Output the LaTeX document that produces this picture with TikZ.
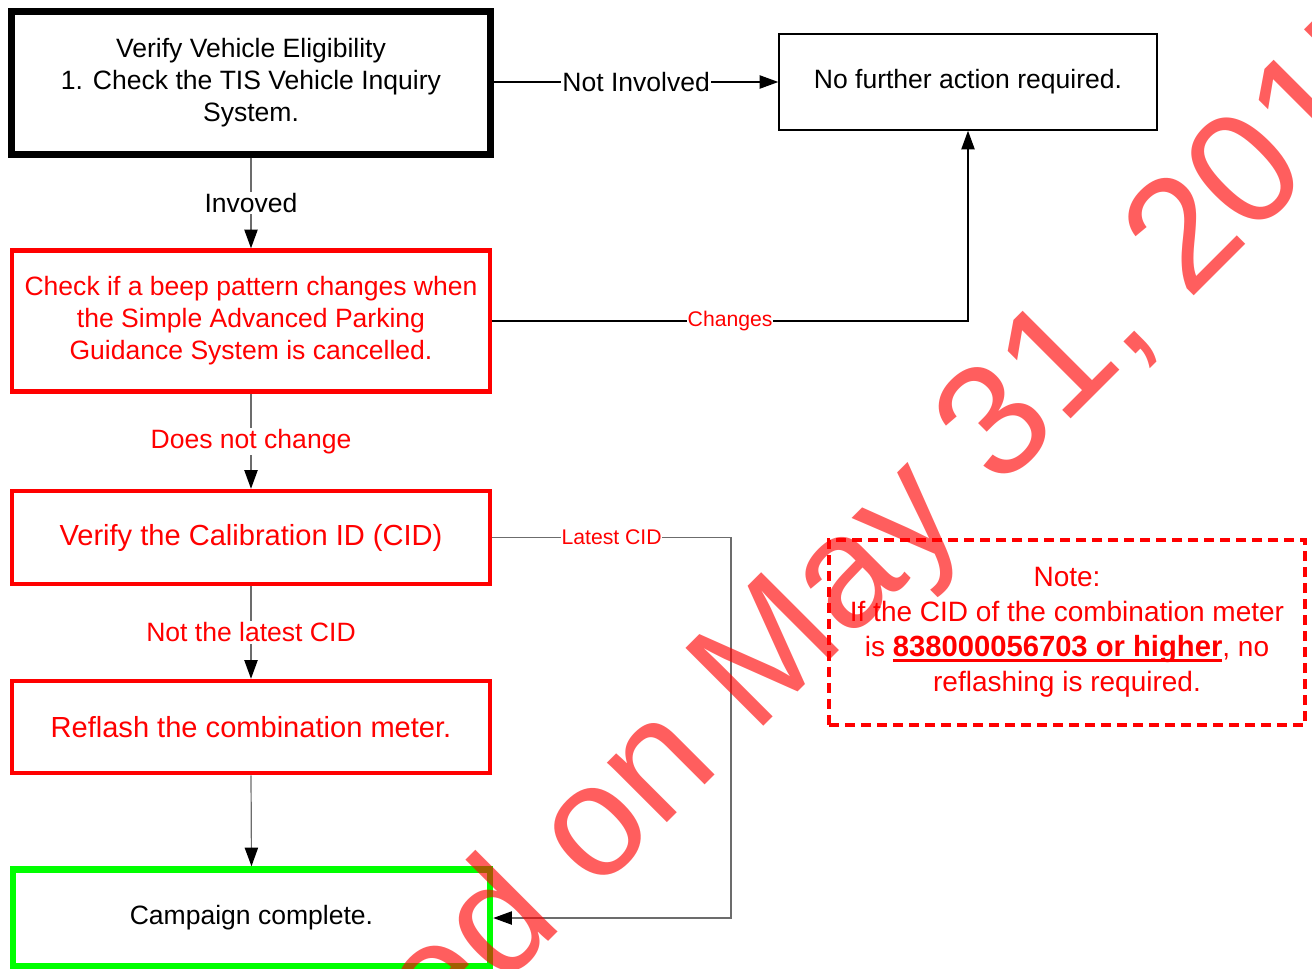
\documentclass[tikz,border=0pt]{standalone}
\usepackage{fontspec}
\setmainfont{Liberation Sans}
\usetikzlibrary{arrows.meta}
\newcommand\myul[1]{\setbox0\hbox{#1}\rlap{\rule[-3.6pt]{\wd0}{2pt}}\box0}
\begin{document}
\begin{tikzpicture}[x=0.75pt,y=-0.75pt,
  box/.style={draw, rectangle, align=center, inner sep=0pt, font=\fontsize{19.9pt}{24pt}\selectfont},
  blackbox/.style={box, line width=5.25pt, minimum width=359.25pt, minimum height=107.25pt},
  thinbox/.style={box, line width=1.1pt, minimum width=283.5pt, minimum height=72pt},
  redbox/.style={box, draw=red, text=red, line width=3.4pt, minimum width=358.5pt},
  bigtext/.style={font=\fontsize{21.8pt}{26pt}\selectfont},
  greenbox/.style={box, draw=green, line width=4.9pt, minimum width=357.75pt, minimum height=72.75pt},
  notebox/.style={box, draw=red, text=red, line width=3pt, dash pattern=on 7.5pt off 4.5pt, minimum width=357pt, minimum height=138.75pt, font=\fontsize{21pt}{26.3pt}\selectfont},
  conn/.style={draw=gray!85!black, line width=0.9pt, -{Triangle[length=14pt,width=10pt,color=black]}},
  blkconn/.style={conn, draw=black},
  lbl/.style={fill=white, inner sep=1pt, font=\fontsize{19.9pt}{24pt}\selectfont},
  redlbl/.style={lbl, text=red},
  slbl/.style={fill=white, inner sep=0.5pt, text=red, font=\fontsize{15.9pt}{19pt}\selectfont}
]
\useasboundingbox (0,0) rectangle (1312,968);

\node[blackbox] (b1) at (251,82.5) {Verify Vehicle Eligibility\\1. Check the TIS Vehicle Inquiry\\System.};
\node[thinbox] (nf) at (968,82) {No further action required.};
\node[redbox, minimum height=105.75pt] (b2) at (251,321) {Check if a beep pattern changes when\\the Simple Advanced Parking\\Guidance System is cancelled.};
\node[redbox, bigtext, minimum height=69.75pt] (b3) at (251,537.5) {Verify the Calibration ID (CID)};
\node[redbox, bigtext, minimum height=69pt] (b4) at (251,727) {Reflash the combination meter.};
\node[greenbox] (b5) at (251.5,918) {Campaign complete.};
\node[notebox] (note) at (1067,632.5) {Note:\\If the CID of the combination meter\\is \myul{\fontsize{21.9pt}{26.3pt}\selectfont\bfseries 838000056703 or higher}, no\\reflashing is required.};

\coordinate (c1) at (nf.south |- b2.east);
\coordinate (c2) at (731,537.5);
\coordinate (c3) at (731,918);

\draw[conn] (b1.south) -- node[lbl]{Invoved} (b2.north);
\draw[blkconn] (b1.east |- nf.west) -- node[lbl]{Not Involved} (nf.west);
\draw[blkconn] (b2.east) -- node[slbl]{Changes} (c1) -- (nf.south);
\draw[conn] (b2.south) -- node[redlbl]{Does not change} (b3.north);
\draw[conn] (b3.east) -- node[slbl]{Latest CID} (c2) -- (c3) -- (b5.east);
\draw[conn] (b3.south) -- node[redlbl]{Not the latest CID} (b4.north);
\draw[conn] (b4.south) -- (b5.north);

\begin{scope}
\clip (0,0) rectangle (1312,968);
\node[rotate=45, anchor=base west, text=red, opacity=0.63, inner sep=0pt, font=\fontsize{120pt}{120pt}\selectfont] (wm) at (207,1283) {Printed on May 31, 2017};
\end{scope}
\end{tikzpicture}
\end{document}
